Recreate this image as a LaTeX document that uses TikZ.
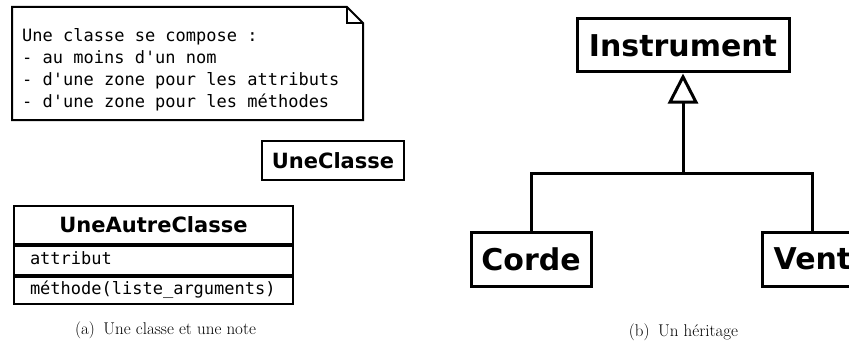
\documentclass[tikz,border=0pt]{standalone}
\usepackage{fontspec}
\newfontfamily\umlsans{DejaVu Sans}
\newfontfamily\umlmono{DejaVu Sans Mono}
\usetikzlibrary{arrows.meta}
\tikzset{
  notebox/.style={draw=black, line width=2pt, line join=miter},
  notetext/.style={inner sep=0pt, anchor=north west, align=left,
    font=\umlmono\fontsize{17}{22}\selectfont},
  classbox/.style={draw=black, line width=2pt, inner sep=0pt,
    font=\umlsans\bfseries\fontsize{21}{25}\selectfont},
  compbox/.style={draw=black, line width=2pt, inner xsep=16pt, inner ysep=0pt,
    text height=12pt, text depth=3.5pt, align=left,
    font=\umlmono\fontsize{17}{22}\selectfont},
  bigclass/.style={draw=black, line width=3pt, inner sep=0pt,
    font=\umlsans\bfseries\fontsize{30}{36}\selectfont},
  inherit/.style={draw=black, line width=3pt},
  subcap/.style={font=\fontsize{17}{20}\selectfont, inner sep=0pt, anchor=base}
}
\begin{document}
\begin{tikzpicture}[x=1pt,y=-1pt]
\useasboundingbox (0,0) rectangle (849,345);
\clip (0,0) rectangle (849,345);
% ---- (a) note ----
\coordinate (nA) at (12,7);
\coordinate (nB) at (347,7);
\coordinate (nC) at (363,23);
\coordinate (nD) at (363,120);
\coordinate (nE) at (12,120);
\coordinate (nF) at (347,23);
\draw[notebox] (nA) -- (nB) -- (nC) -- (nD) -- (nE) -- cycle;
\draw[notebox] (nB) -- (nF) -- (nC);
\node[notetext] (notetxt) at (22,28) {Une classe se compose :\\- au moins d'un nom\\- d'une zone pour les attributs\\- d'une zone pour les méthodes};
% ---- UneClasse ----
\node[classbox, minimum width=142pt, minimum height=39pt] (uneclasse) at (333,160.5) {UneClasse};
% ---- UneAutreClasse ----
\node[classbox, minimum width=279pt, minimum height=38pt] (autretitle) at (153.5,225) {UneAutreClasse};
\node[compbox, text width=247pt, minimum height=29pt, anchor=north] (autreattr) at (autretitle.south) {attribut};
\node[compbox, text width=247pt, minimum height=27pt, anchor=north] (autremeth) at (autreattr.south) {méthode(liste\_arguments)};
\node[subcap] (capa) at (165.5,334) {(a)\hspace{0.5em}Une classe et une note};
% ---- (b) heritage ----
\node[bigclass, minimum width=212pt, minimum height=53pt] (instrument) at (683,45.5) {Instrument};
\node[bigclass, minimum width=120pt, minimum height=54pt] (corde) at (531,259) {Corde};
\node[bigclass, minimum width=100pt, minimum height=54pt, anchor=west] (vent) at (761,259) {Vent};
\coordinate (junction) at (683,173);
\draw[inherit] (corde.north) |- (junction) -| (vent.north);
\draw[inherit, -{Triangle[open, length=30pt, width=30pt, line join=miter]}] (junction) -- (instrument.south);
\node[subcap] (capb) at (683.5,336) {(b)\hspace{0.5em}Un héritage};
\end{tikzpicture}
\end{document}
